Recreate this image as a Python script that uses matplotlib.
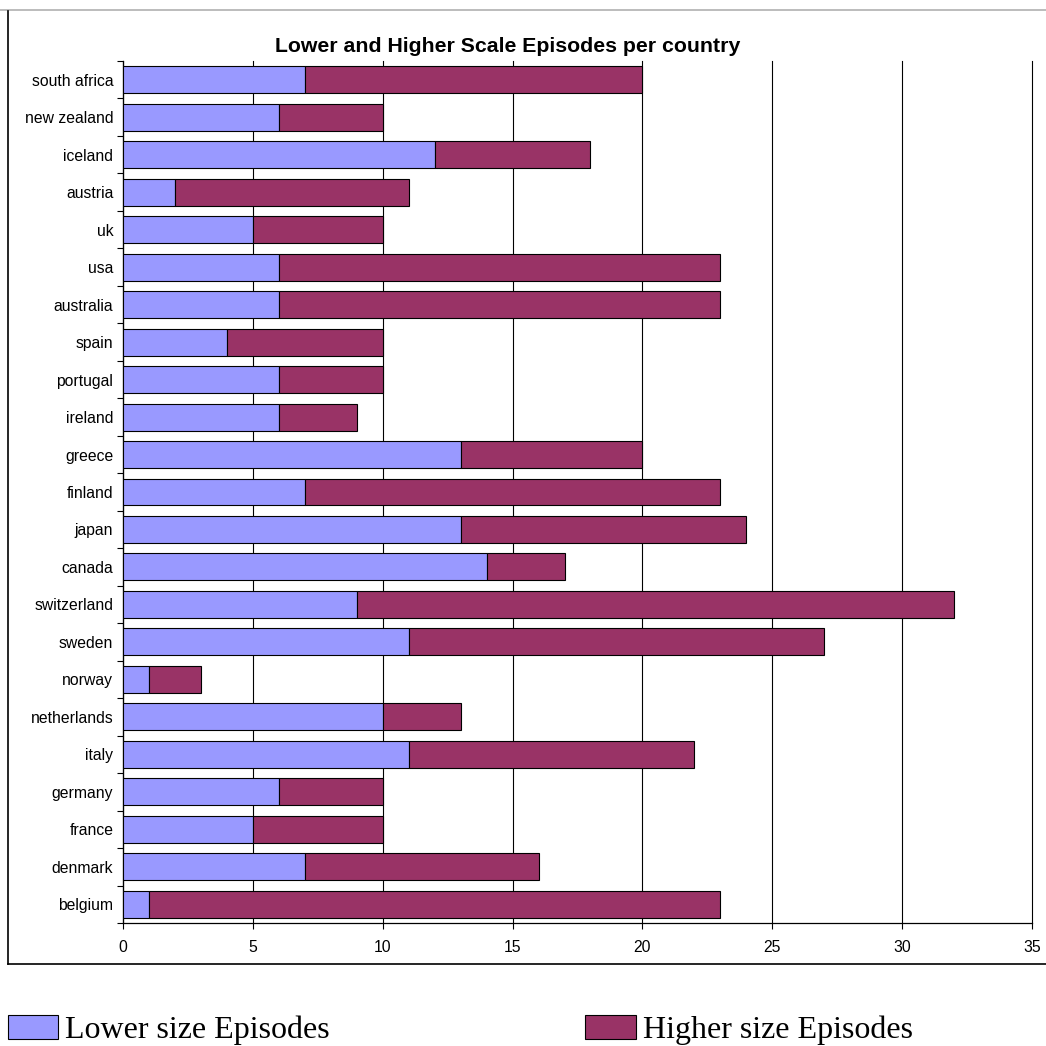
import matplotlib
matplotlib.use("Agg")
import matplotlib.pyplot as plt
from matplotlib.lines import Line2D

countries = ["belgium", "denmark", "france", "germany", "italy", "netherlands",
             "norway", "sweden", "switzerland", "canada", "japan", "finland",
             "greece", "ireland", "portugal", "spain", "australia", "usa", "uk",
             "austria", "iceland", "new zealand", "south africa"]
lower = [1, 7, 5, 6, 11, 10, 1, 11, 9, 14, 13, 7, 13, 6, 6, 4, 6, 6, 5, 2, 12, 6, 7]
higher = [22, 9, 5, 4, 11, 3, 2, 16, 23, 3, 11, 16, 7, 3, 4, 6, 17, 17, 5, 9, 6, 4, 13]
xticks = [0, 5, 10, 15, 20, 25, 30, 35]

W = H = 1046
fig = plt.figure(figsize=(W / 100, H / 100), dpi=100)
ax = fig.add_axes([123 / W, (H - 923) / H, (1032 - 123) / W, (923 - 61) / H])

ypos = list(range(len(countries)))
b1 = ax.barh(ypos, lower, height=0.72, color="#9999FF", edgecolor="#000000",
             linewidth=0.8, label="Lower size Episodes", zorder=3)
b2 = ax.barh(ypos, higher, left=lower, height=0.72, color="#993366",
             edgecolor="#000000", linewidth=0.8, label="Higher size Episodes", zorder=3)

ax.set_xlim(0, 35)
ax.set_ylim(-0.5, len(countries) - 0.5)
ax.set_xticks(xticks)
ax.set_xticklabels([str(t) for t in xticks], fontsize=11.3, family="Liberation Sans")
ax.set_yticks(ypos)
ax.set_yticklabels(countries, fontsize=11.3, family="Liberation Sans")
ax.set_yticks([y - 0.5 for y in ypos] + [len(countries) - 0.5], minor=True)
ax.tick_params(axis="y", which="major", length=0, pad=7)
ax.tick_params(axis="y", which="minor", length=4, width=0.8, direction="out")
ax.tick_params(axis="x", which="major", length=4, width=0.8, pad=8)
ax.xaxis.grid(True, color="#000000", linewidth=0.8, zorder=0)
for gl in ax.get_xgridlines():
    gl.set_clip_on(False)
ax.set_axisbelow(True)
for s in ["top", "right"]:
    ax.spines[s].set_visible(False)
for s in ["left", "bottom"]:
    ax.spines[s].set_linewidth(0.9)

fig.text(508 / W, (H - 47) / H, "Lower and Higher Scale Episodes per country",
         ha="center", va="center", fontsize=15.3, fontweight="bold",
         family="Liberation Sans")

# outer frame
fig.add_artist(Line2D([0, 1], [(H - 10) / H] * 2, color="#b0b0b0", lw=1.2,
                      transform=fig.transFigure))
fig.add_artist(Line2D([8 / W, 8 / W], [(H - 964) / H, (H - 11) / H], color="#000000",
                      lw=1.2, transform=fig.transFigure))
fig.add_artist(Line2D([8 / W, 1], [(H - 964) / H] * 2, color="#000000", lw=1.2,
                      transform=fig.transFigure))

fig.legend(handles=[b1, b2], loc="center left", bbox_to_anchor=(8 / W, (H - 1030) / H),
           ncol=2, frameon=False, borderpad=0, borderaxespad=0,
           handlelength=1.57, handleheight=0.78, handletextpad=0.22,
           columnspacing=8.0, prop={"family": "Liberation Serif", "size": 23})

fig.savefig("out.png", dpi=100)
